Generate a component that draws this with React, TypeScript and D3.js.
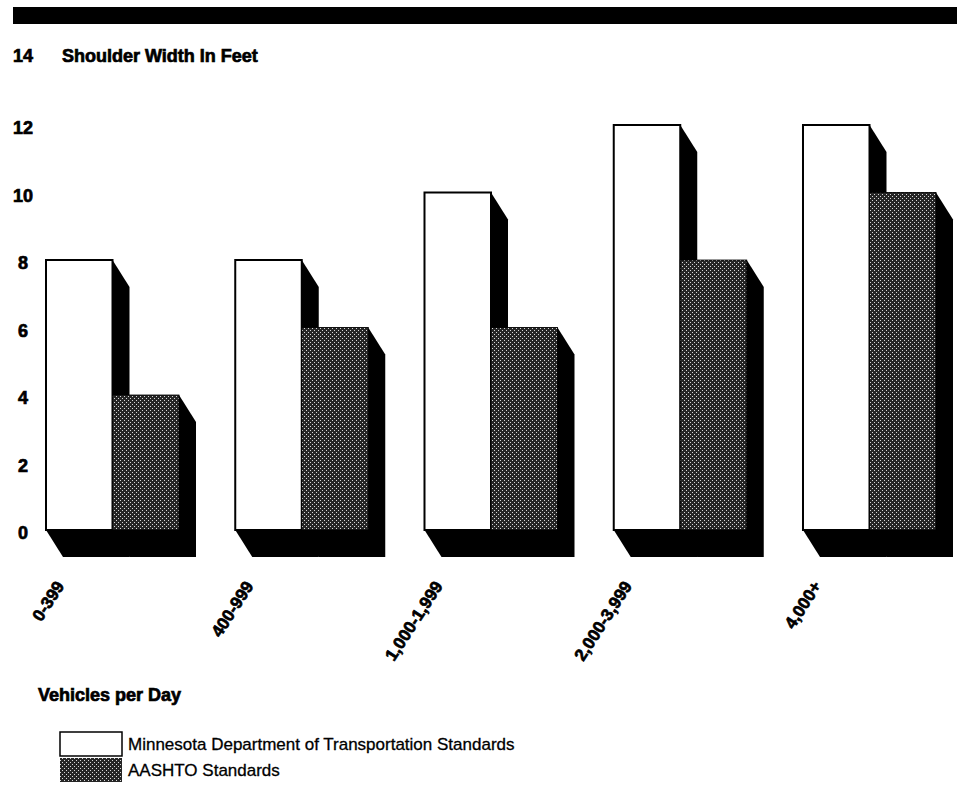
import React from "react";
import * as d3 from "d3";

const categories = ["0-399", "400-999", "1,000-1,999", "2,000-3,999", "4,000+"];
const mndotValues = [8, 8, 10, 12, 12];
const aashtoValues = [4, 6, 6, 8, 10];
const yTicks = [0, 2, 4, 6, 8, 10, 12, 14];
const seriesNames = [
  "Minnesota Department of Transportation Standards",
  "AASHTO Standards",
];
const seriesKeys = ["mndot", "aashto"];
const yTitle = "Shoulder Width In Feet";
const xTitle = "Vehicles per Day";

const W = 961;
const H = 806;
const DX = 17;
const DY = 27;
const FONT = "'Liberation Sans', Arial, Helvetica, sans-serif";

export default function App() {
  const x = d3
    .scaleBand<string>()
    .domain(categories)
    .range([46, 936])
    .paddingInner(0.2972)
    .paddingOuter(0);
  const xs = d3
    .scaleBand<string>()
    .domain(seriesKeys)
    .range([0, x.bandwidth()])
    .padding(0);
  const y = d3.scaleLinear().domain([0, 14]).range([530, 57.5]);

  const rows = categories.map((c, i) => ({
    cat: c,
    mndot: mndotValues[i],
    aashto: aashtoValues[i],
  }));

  const boldText = {
    fontFamily: FONT,
    fontWeight: 700,
    fill: "#000",
    stroke: "#000",
    strokeWidth: 0.7,
  } as React.CSSProperties;

  const tickY = (t: number) => (t === 14 ? y(t) - 2 : y(t) + 3);

  return (
    <svg
      width={W}
      height={H}
      style={{ position: "absolute", left: 0, top: 0, background: "#fff" }}
    >
      <defs>
        <pattern id="dots" width={4} height={4} patternUnits="userSpaceOnUse">
          <rect width={4} height={4} fill="#262626" />
          <rect x={0} y={0} width={1} height={1} fill="#d8d8d8" />
          <rect x={2} y={2} width={1} height={1} fill="#d8d8d8" />
        </pattern>
      </defs>

      {/* top banner */}
      <rect x={13} y={7} width={944} height={17} fill="#000" />

      {/* y tick labels */}
      {yTicks.map((t) => (
        <text
          key={t}
          x={23}
          y={tickY(t)}
          textAnchor="middle"
          dominantBaseline="central"
          fontSize={18}
          style={boldText}
        >
          {t}
        </text>
      ))}
      <text
        x={62}
        y={tickY(14)}
        dominantBaseline="central"
        fontSize={18}
        style={boldText}
      >
        {yTitle}
      </text>

      {/* shadows */}
      {rows.map((r) =>
        seriesKeys.map((k) => {
          const x0 = (x(r.cat) as number) + (xs(k) as number);
          const x1 = x0 + xs.bandwidth();
          const yt = y((r as any)[k]);
          const yb = y(0);
          const pts = [
            [x0, yb],
            [x0, yt],
            [x1, yt],
            [x1 + DX, yt + DY],
            [x1 + DX, yb + DY],
            [x0 + DX, yb + DY],
          ];
          return (
            <polygon
              key={r.cat + k + "s"}
              points={pts.map((p) => p.join(",")).join(" ")}
              fill="#000"
            />
          );
        })
      )}

      {/* bars */}
      {rows.map((r) =>
        seriesKeys.map((k) => {
          const x0 = (x(r.cat) as number) + (xs(k) as number);
          const yt = y((r as any)[k]);
          const yb = y(0);
          return (
            <rect
              key={r.cat + k}
              x={x0}
              y={yt}
              width={xs.bandwidth()}
              height={yb - yt}
              fill={k === "mndot" ? "#fff" : "url(#dots)"}
              stroke="#000"
              strokeWidth={k === "mndot" ? 2 : 0.8}
            />
          );
        })
      )}

      {/* x labels */}
      {categories.map((c) => {
        const ax = (x(c) as number) + 19;
        const ay = 586;
        return (
          <text
            key={c}
            x={ax}
            y={ay}
            textAnchor="end"
            fontSize={17}
            transform={`rotate(-57 ${ax} ${ay})`}
            style={boldText}
          >
            {c}
          </text>
        );
      })}

      <text x={38} y={701} fontSize={18} style={boldText}>
        {xTitle}
      </text>

      {/* legend */}
      {seriesKeys.map((k, i) => {
        const ly = 732 + i * 26;
        return (
          <g key={k}>
            <rect
              x={60}
              y={ly}
              width={62}
              height={24}
              fill={k === "mndot" ? "#fff" : "url(#dots)"}
              stroke="#000"
              strokeWidth={k === "mndot" ? 1.5 : 0}
            />
            <text
              x={128}
              y={ly + 12}
              dominantBaseline="central"
              fontSize={17}
              fontFamily={FONT}
              fill="#000"
              stroke="#000"
              strokeWidth={0.3}
            >
              {seriesNames[i]}
            </text>
          </g>
        );
      })}
    </svg>
  );
}
